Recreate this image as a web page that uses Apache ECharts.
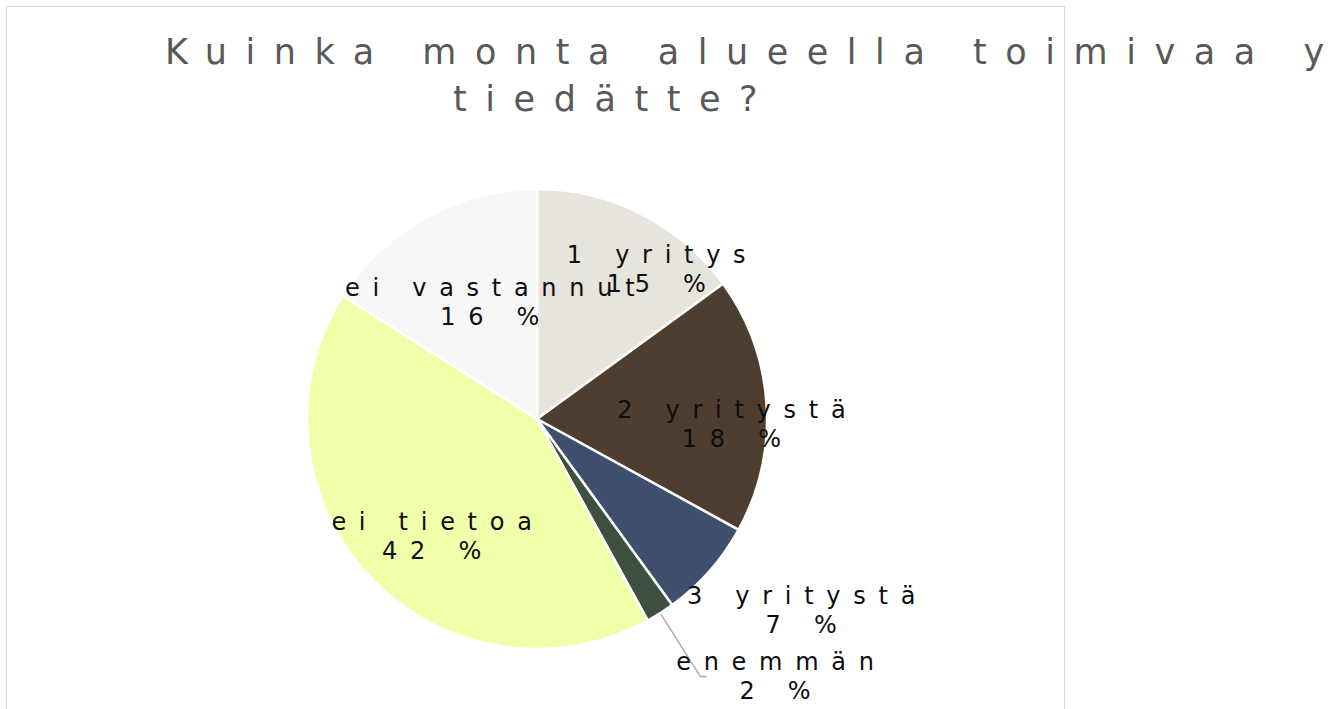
<!DOCTYPE html>
<html>
<head>
<meta charset="utf-8">
<script src="https://cdn.jsdelivr.net/npm/echarts@6/dist/echarts.min.js"></script>
<style>
html, body { margin: 0; padding: 0; background: #fff; }
#chart { width: 1329px; height: 709px; }
/* the original has very wide tracking on every text */
#chart text, #chart tspan { letter-spacing: 0.53em; }
</style>
</head>
<body>
<div id="chart"></div>
<script>
var categories = ['1 yritys', '2 yritystä', '3 yritystä', 'enemmän', 'ei tietoa', 'ei vastannut'];
var percents = [15, 18, 7, 2, 42, 16];
var sliceColors = ['#e7e4de', '#4e3e2f', '#3f4f6e', '#3d4f3f', '#f0ffaa', '#f7f7f7'];
var titleLines = ['Kuinka monta alueella toimivaa yritystä', 'tiedätte?'];

// label shifts from the default inside spot (null = outside label with a line)
var labelNudge = [[72, -44], [83, 13], [182, 113], null, [-13, 37], [16, -13]];

var dom = document.getElementById('chart');
var myChart = echarts.init(dom, null, { width: 1329, height: 709, renderer: 'svg' });

var pieData = categories.map(function (name, i) {
	var item = { name: name, value: percents[i], itemStyle: { color: sliceColors[i] } };
	if (!labelNudge[i]) {
		item.label = {
			position: 'outside',
			formatter: function (p) { return '{c|' + p.name + '}\n{c|' + p.value + ' %}'; },
			rich: { c: { width: 140, align: 'center', fontSize: 24, lineHeight: 29, color: '#0d0d0d', fontFamily: 'DejaVu Sans' } }
		};
		item.labelLine = { show: true, length: 75, length2: 6, lineStyle: { color: '#a6a6a6', width: 1.3 } };
	}
	return item;
});

var option = {
	animation: false,
	backgroundColor: '#fff',
	title: [
		{
			text: titleLines[0],
			left: 165,
			top: 32,
			padding: 0,
			textStyle: { fontFamily: 'DejaVu Sans', fontSize: 35, fontWeight: 'normal', color: '#595959', lineHeight: 40 }
		},
		{
			text: titleLines[1],
			left: 453,
			top: 79,
			padding: 0,
			textStyle: { fontFamily: 'DejaVu Sans', fontSize: 35, fontWeight: 'normal', color: '#595959', lineHeight: 40 }
		}
	],
	graphic: [
		{
			type: 'rect',
			z: -10,
			shape: { x: 6.5, y: 6.5, width: 1058, height: 730 },
			style: { fill: 'none', stroke: '#d9d9d9', lineWidth: 1 }
		}
	],
	series: [
		{
			type: 'pie',
			center: [537, 419],
			radius: 230,
			startAngle: 90,
			clockwise: true,
			avoidLabelOverlap: false,
			itemStyle: { borderColor: '#fff', borderWidth: 2.5 },
			label: {
				show: true,
				position: 'inside',
				formatter: function (p) { return p.name + '\n' + p.value + ' %'; },
				fontFamily: 'DejaVu Sans',
				fontSize: 24,
				lineHeight: 29,
				color: '#0d0d0d'
			},
			labelLine: { show: false },
			labelLayout: function (params) {
				var n = labelNudge[params.dataIndex];
				if (!n) return null;
				return { dx: n[0], dy: n[1] };
			},
			emphasis: { disabled: true },
			data: pieData
		}
	]
};

myChart.setOption(option);
</script>
</body>
</html>
